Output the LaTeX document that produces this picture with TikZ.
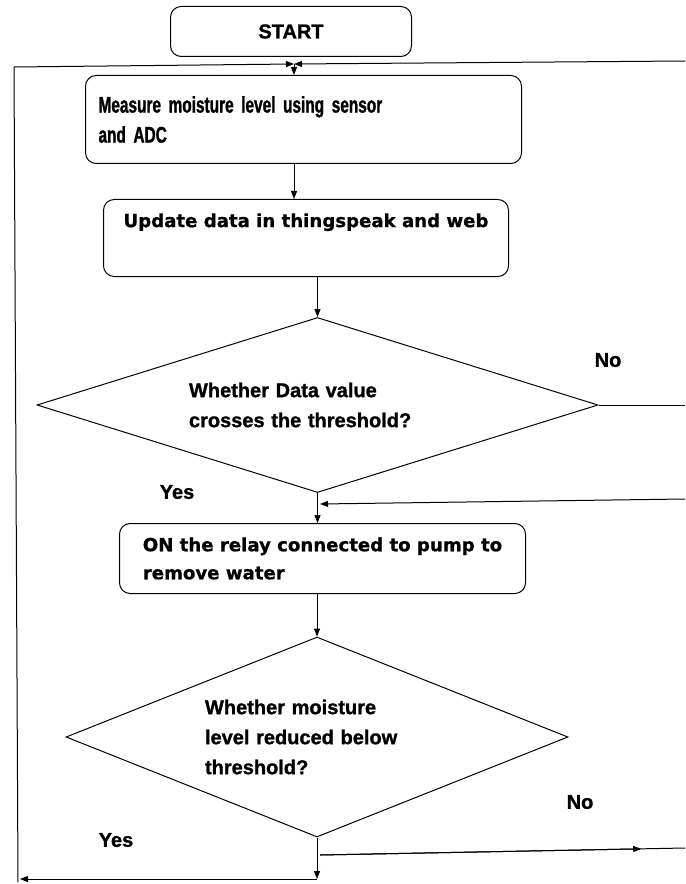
\documentclass[tikz,border=0pt]{standalone}
\usepackage{fontspec}
\setmainfont[BoldFeatures={FakeBold=1.2}]{Liberation Sans}
\newfontfamily\narrowfont[FakeStretch=0.68, BoldFeatures={FakeBold=1.2}]{Liberation Sans}
\newfontfamily\widefont[BoldFeatures={FakeBold=0.8}]{DejaVu Sans}
\usetikzlibrary{arrows.meta, shapes.geometric, positioning, calc}

\begin{document}
\begin{tikzpicture}[x=0.75pt, y=-0.75pt, line width=0.75pt,
    >={Triangle[length=6pt, width=4.5pt]},
    every node/.style={font=\bfseries\fontsize{15}{22.5}\selectfont},
    box/.style={draw, rectangle, rounded corners=8pt, align=left, anchor=north west},
    cond/.style={draw, diamond, inner sep=0pt, align=left}]

    \useasboundingbox (0,0) rectangle (685,884);

    % blocks
    \node [box, minimum width=180.75pt, minimum height=37.5pt] (start) at (170,6) {START};
    \node [box, minimum width=327pt, minimum height=66pt, inner xsep=9.75pt,
        text width=307.5pt, font=\narrowfont\bfseries\fontsize{17}{22.5}\selectfont]
        (measure) at (85,75) {Measure moisture level using sensor\\and ADC};
    \node [box, minimum width=303.75pt, minimum height=57.75pt,
        font=\widefont\bfseries\fontsize{13.6}{20.5}\selectfont]
        (update) at (103,199) {Update data in thingspeak and web\\\strut};
    \node [cond, aspect=3.2, minimum width=420.75pt, minimum height=131.25pt, text width=192.75pt]
        (check1) at (317.5,405) {Whether Data value\\crosses the threshold?};
    \node [box, minimum width=304.5pt, minimum height=52.5pt,
        font=\widefont\bfseries\fontsize{13.6}{21}\selectfont]
        (relay) at (119,523) {ON the relay connected to pump to\\remove water};
    \node [cond, aspect=2.5, minimum width=376.5pt, minimum height=150pt, text width=168pt]
        (check2) at (317,737) {Whether moisture\\level reduced below\\threshold?};

    % labels
    \node (no1) at (608,360) {No};
    \node (yes1) at (177,492) {Yes};
    \node (no2) at (580,802) {No};
    \node (yes2) at (116,840) {Yes};

    % points of the loops
    \coordinate (merge) at (294,64);
    \coordinate (rtop) at (685,61);
    \coordinate (ltop) at (14,67);
    \coordinate (lbot) at (18,882);
    \coordinate (down2) at (317,879);
    \coordinate (lend) at (20,879);
    \coordinate (out1) at (685,405);
    \coordinate (back1) at (685,499);
    \coordinate (join1) at (320,504);
    \coordinate (from2) at (320,855);
    \coordinate (out2) at (685,848);

    % main flow
    \draw [->] (merge) -- (merge |- measure.north);
    \draw [->] (measure.south -| merge) -- (update.north -| merge);
    \draw [->] (update.south -| check1.north) -- (check1.north);
    \draw [->] (check1.south) -- (check1.south |- relay.north);
    \draw [->] (relay.south -| check2.north) -- (check2.north);

    % loops
    \draw [->] (rtop) -- (merge);
    \draw (lbot) -- (ltop);
    \draw [->] (ltop) -- (merge);
    \draw [->] (check2.south) -- (down2);
    \draw [->] (down2) -- (lend);
    \draw (check1.east) -- (out1);
    \draw [->] (back1) -- (join1);
    \draw [->] (from2) -- ($(from2)!0.88!(out2)$);
    \draw (from2) -- (out2);

\end{tikzpicture}
\end{document}
